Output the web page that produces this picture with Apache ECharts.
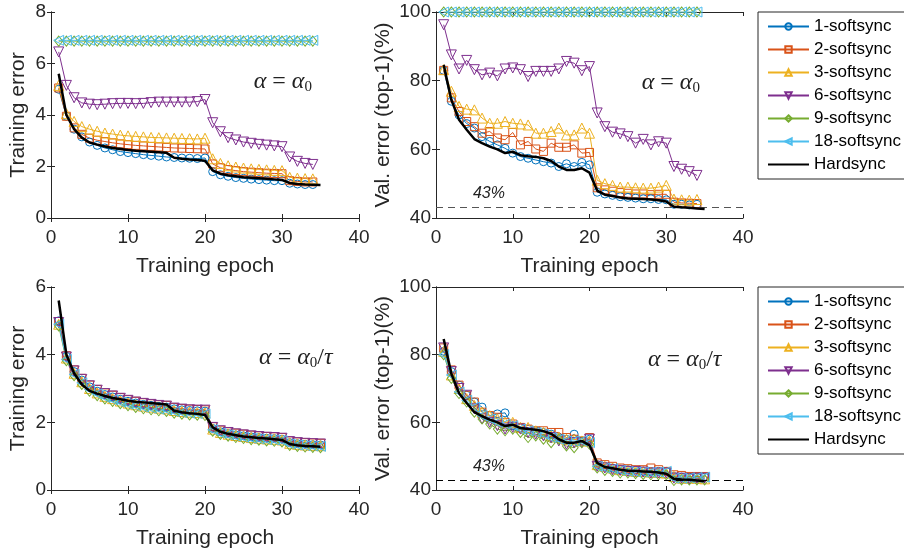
<!DOCTYPE html>
<html>
<head>
<meta charset="utf-8">
<script src="https://cdn.jsdelivr.net/npm/echarts@6/dist/echarts.min.js"></script>
<style>
  html, body { margin: 0; padding: 0; background: #fff; }
  #chart { width: 904px; height: 550px; }
</style>
</head>
<body>
<div id="chart"></div>
<script>
// epochs
const epochs = [1, 2, 3, 4, 5, 6, 7, 8, 9, 10, 11, 12, 13, 14, 15, 16, 17, 18, 19, 20,
  21, 22, 23, 24, 25, 26, 27, 28, 29, 30, 31, 32, 33, 34, 35]

const names = ['1-softsync', '2-softsync', '3-softsync', '6-softsync', '9-softsync', '18-softsync', 'Hardsync']
const colors = ['#0072BD', '#D95319', '#EDB120', '#7E2F8E', '#77AC30', '#4DBEEE', '#000000']

const xTicks = [0, 10, 20, 30, 40]
const yTicksTrainTop = [0, 2, 4, 6, 8]
const yTicksTrainBottom = [0, 2, 4, 6]
const yTicksVal = [40, 60, 80, 100]

// training error, alpha = alpha0
const trainA0_1 = [5.0, 3.95, 3.45, 3.15, 2.95, 2.82, 2.72, 2.65, 2.58, 2.54, 2.5, 2.46, 2.43, 2.4, 2.37, 2.35, 2.33, 2.32, 2.31, 2.33,
  1.8, 1.68, 1.62, 1.57, 1.54, 1.51, 1.49, 1.47, 1.45, 1.45, 1.35, 1.32, 1.3, 1.3]
const trainA0_2 = [5.05, 3.95, 3.5, 3.25, 3.1, 3.02, 2.97, 2.92, 2.88, 2.85, 2.82, 2.8, 2.78, 2.76, 2.74, 2.72, 2.71, 2.7, 2.69, 2.68,
  2.1, 1.95, 1.88, 1.84, 1.8, 1.78, 1.76, 1.74, 1.73, 1.72, 1.45, 1.42, 1.4, 1.4]
const trainA0_3 = [5.15, 4.05, 3.75, 3.55, 3.45, 3.37, 3.3, 3.26, 3.22, 3.19, 3.17, 3.15, 3.13, 3.12, 3.11, 3.1, 3.09, 3.08, 3.07, 3.1,
  2.3, 2.12, 2.03, 1.98, 1.94, 1.91, 1.89, 1.87, 1.85, 1.84, 1.58, 1.55, 1.53, 1.52]
const trainA0_6 = [6.45, 5.15, 4.67, 4.47, 4.42, 4.4, 4.42, 4.44, 4.45, 4.45, 4.44, 4.45, 4.48, 4.5, 4.5, 4.5, 4.5, 4.5, 4.52, 4.6,
  3.7, 3.35, 3.12, 3.03, 2.95, 2.9, 2.86, 2.83, 2.8, 2.77, 2.37, 2.2, 2.12, 2.08]
const trainA0_9 = [6.87, 6.87, 6.87, 6.87, 6.87, 6.87, 6.87, 6.87, 6.87, 6.87, 6.87, 6.87, 6.87, 6.87, 6.87, 6.87, 6.87, 6.87, 6.87, 6.87,
  6.87, 6.87, 6.87, 6.87, 6.87, 6.87, 6.87, 6.87, 6.87, 6.87, 6.87, 6.87, 6.87, 6.87]
const trainA0_18 = [6.9, 6.9, 6.9, 6.9, 6.9, 6.9, 6.9, 6.9, 6.9, 6.9, 6.9, 6.9, 6.9, 6.9, 6.9, 6.9, 6.9, 6.9, 6.9, 6.9,
  6.9, 6.9, 6.9, 6.9, 6.9, 6.9, 6.9, 6.9, 6.9, 6.9, 6.9, 6.9, 6.9, 6.9]
const trainHard = [5.6, 4.0, 3.45, 3.12, 2.93, 2.85, 2.78, 2.72, 2.68, 2.64, 2.61, 2.59, 2.57, 2.55, 2.53, 2.34, 2.3, 2.27, 2.25, 2.22,
  1.85, 1.72, 1.66, 1.62, 1.58, 1.56, 1.54, 1.52, 1.5, 1.48, 1.36, 1.32, 1.3, 1.29, 1.28]

// validation error, alpha = alpha0
const valA0_1 = [83, 74, 70, 67.5, 66.2, 63.7, 62.3, 61.3, 60.3, 58.9, 57.9, 57.4, 56.9, 56.4, 56, 55, 55.8, 55, 56.2, 55.5,
  47.5, 47, 46.6, 46.2, 46, 45.8, 45.6, 45.6, 45.4, 45.3, 44, 44, 43.8, 44]
const valA0_2 = [83, 75, 71, 68.1, 66.6, 64.7, 65.2, 63.3, 62.8, 64.9, 61.3, 62.3, 60.1, 59.4, 61.8, 60.6, 60.6, 61.3, 58.9, 59.1,
  48.8, 48.2, 47.8, 47.4, 47.2, 47, 47, 46.8, 46.9, 46.9, 44.6, 44.4, 44.3, 44.2]
const valA0_3 = [83.2, 76.9, 72.5, 71.7, 71.5, 69.1, 67.6, 67.6, 68.1, 67.6, 67.4, 67.1, 64.7, 64.7, 65.2, 66.2, 64.2, 64.2, 66.2, 64.7,
  51, 50, 49.5, 49, 49, 48.8, 48.7, 48.7, 49, 49.5, 45.5, 45.3, 45.2, 45.4]
const valA0_6 = [96.3, 87.5, 83.4, 85.9, 83.2, 81.7, 82.2, 81.4, 83.4, 83.7, 83.2, 81.2, 82.7, 82.7, 82.7, 83.4, 85.6, 85.1, 82.9, 84.1,
  70.6, 66.6, 65, 64.5, 63.7, 61.8, 62.9, 61.3, 62.2, 61.8, 55, 54.2, 53.5, 52.4]
const valA0_9 = [100, 100, 100, 100, 100, 100, 100, 100, 100, 100, 100, 100, 100, 100, 100, 100, 100, 100, 100, 100,
  100, 100, 100, 100, 100, 100, 100, 100, 100, 100, 100, 100, 100, 100]
const valA0_18 = [100, 100, 100, 100, 100, 100, 100, 100, 100, 100, 100, 100, 100, 100, 100, 100, 100, 100, 100, 100,
  100, 100, 100, 100, 100, 100, 100, 100, 100, 100, 100, 100, 100, 100]
const valHard = [84.6, 74.4, 68.6, 65.7, 63, 61.8, 60.8, 60, 58.9, 59.3, 58.3, 58, 57.8, 57.4, 56.6, 55, 54, 54, 54.5, 53.2,
  48, 46.8, 46.4, 46, 45.7, 45.6, 45.5, 45.4, 45.2, 44.8, 43.3, 43.1, 43, 42.8, 42.6]

// training error, alpha = alpha0 / tau
const trainT_1 = [5.0, 3.95, 3.5, 3.25, 3.05, 2.92, 2.82, 2.75, 2.68, 2.62, 2.57, 2.53, 2.5, 2.47, 2.45, 2.4, 2.37, 2.35, 2.34, 2.33,
  1.82, 1.72, 1.67, 1.63, 1.6, 1.57, 1.55, 1.53, 1.52, 1.5, 1.4, 1.37, 1.35, 1.34, 1.33]
const trainT_2 = [4.98, 3.97, 3.55, 3.3, 3.1, 2.97, 2.87, 2.8, 2.73, 2.67, 2.62, 2.58, 2.55, 2.52, 2.5, 2.44, 2.41, 2.39, 2.38, 2.37,
  1.87, 1.77, 1.72, 1.68, 1.65, 1.62, 1.6, 1.58, 1.57, 1.55, 1.45, 1.42, 1.4, 1.39, 1.38]
const trainT_3 = [4.9, 3.9, 3.45, 3.2, 3.0, 2.87, 2.77, 2.7, 2.63, 2.57, 2.52, 2.48, 2.45, 2.42, 2.4, 2.35, 2.32, 2.3, 2.29, 2.28,
  1.8, 1.7, 1.65, 1.61, 1.58, 1.55, 1.53, 1.51, 1.5, 1.48, 1.38, 1.35, 1.33, 1.32, 1.31]
const trainT_6 = [4.95, 3.93, 3.52, 3.27, 3.08, 2.95, 2.85, 2.78, 2.71, 2.65, 2.6, 2.56, 2.53, 2.5, 2.48, 2.42, 2.39, 2.37, 2.36, 2.36,
  1.85, 1.75, 1.7, 1.66, 1.63, 1.6, 1.58, 1.56, 1.55, 1.53, 1.43, 1.4, 1.38, 1.37, 1.36]
const trainT_9 = [4.85, 3.82, 3.38, 3.12, 2.92, 2.79, 2.69, 2.62, 2.55, 2.49, 2.44, 2.4, 2.37, 2.34, 2.32, 2.27, 2.24, 2.22, 2.21, 2.2,
  1.74, 1.64, 1.59, 1.55, 1.52, 1.49, 1.47, 1.45, 1.44, 1.42, 1.32, 1.29, 1.27, 1.26, 1.25]
const trainT_18 = [4.9, 3.86, 3.42, 3.17, 2.97, 2.84, 2.74, 2.67, 2.6, 2.54, 2.49, 2.45, 2.42, 2.39, 2.37, 2.32, 2.29, 2.27, 2.26, 2.25,
  1.78, 1.68, 1.63, 1.59, 1.56, 1.53, 1.51, 1.49, 1.48, 1.46, 1.36, 1.33, 1.31, 1.3, 1.29]

// validation error, alpha = alpha0 / tau
const valT_1 = [81, 75, 71, 68, 66, 64.5, 62, 62.5, 62.8, 59, 58.5, 58, 57.5, 57, 56.5, 55.5, 55, 56.5, 54.5, 55,
  47.5, 47, 46.5, 46, 46, 45.8, 45.5, 45.5, 45.5, 45.5, 44, 43.8, 43.8, 43.8, 43.8]
const valT_2 = [82, 75.5, 71, 68, 66, 63, 62, 61.5, 60, 59.5, 58.5, 58, 57.5, 57.5, 57, 57, 55.5, 55, 54.5, 55.5,
  48, 47.5, 47, 46.5, 46.3, 46, 46, 46.5, 46, 45.5, 44.5, 44.3, 44, 44, 44]
const valT_3 = [81, 74, 70, 67, 65, 63, 62, 61, 60, 60, 58.5, 58.5, 57.5, 57, 56, 55.5, 55, 55, 54.5, 54.5,
  47.5, 47, 46.5, 46, 45.8, 45.5, 45.5, 45.3, 45.2, 45, 44, 43.5, 43.5, 43.5, 43.3]
const valT_6 = [82, 75, 70, 68, 64, 61, 60, 59, 58, 58.5, 58, 57, 56.5, 56, 55.5, 54.5, 53.5, 54, 54, 55,
  47, 46.5, 46, 45.8, 45.5, 45.5, 45.3, 45, 45, 45, 43.5, 43.5, 43.3, 43.5, 43.5]
const valT_9 = [80, 73, 68.5, 66, 63, 61, 59.5, 58, 57.5, 58, 57, 55.5, 56, 55, 54, 55, 53, 52.5, 54, 53.5,
  46.5, 45.8, 45.5, 45, 45, 44.8, 44.6, 44.5, 44.5, 44.5, 42.8, 43, 43, 43, 43]
const valT_18 = [80, 74, 69, 66.5, 64.5, 62, 61, 60, 59.5, 59, 58, 57.5, 57, 56.5, 55.5, 55, 54.5, 54.5, 54.5, 54,
  47, 46.5, 46.3, 45.8, 45.5, 45.3, 45.3, 45.2, 45.3, 45.5, 43.5, 43.5, 43.6, 43.7, 43.8]

const symbols = [
  { symbol: 'circle', size: 8 },
  { symbol: 'rect', size: 8 },
  { symbol: 'triangle', size: 10 },
  { symbol: 'path://M0,0 L10,0 L5,10 Z', size: 10 },
  { symbol: 'diamond', size: [8, 10] },
  { symbol: 'path://M0,5 L10,0 L10,10 Z', size: 10 }
]

const axisColor = '#262626'
const font = 'Liberation Sans, Arial, sans-serif'

const grids = [
  { left: 51, top: 12, width: 308, height: 206 },
  { left: 436, top: 12, width: 307, height: 206 },
  { left: 51, top: 287, width: 308, height: 206 },
  { left: 436, top: 287, width: 307, height: 206 }
]

const yRanges = [
  { ticks: yTicksTrainTop, name: 'Training error', gap: 22 },
  { ticks: yTicksVal, name: 'Val. error (top-1)(%)', gap: 42 },
  { ticks: yTicksTrainBottom, name: 'Training error', gap: 22 },
  { ticks: yTicksVal, name: 'Val. error (top-1)(%)', gap: 42 }
]

const xAxes = []
const yAxes = []
grids.forEach((g, i) => {
  xAxes.push({
    type: 'value', gridIndex: i, min: xTicks[0], max: xTicks[xTicks.length - 1], interval: 10,
    name: 'Training epoch', nameLocation: 'middle', nameGap: 38,
    nameTextStyle: { fontSize: 21, color: axisColor, fontFamily: font },
    axisLine: { show: true, lineStyle: { color: axisColor, width: 1 } },
    axisTick: { show: true, inside: true, length: 4, lineStyle: { color: axisColor } },
    axisLabel: { fontSize: 19, color: axisColor, fontFamily: font, margin: 10 },
    splitLine: { show: false }
  })
  xAxes.push({
    type: 'value', gridIndex: i, position: 'top', min: 0, max: 40, interval: 10,
    axisLine: { show: true, lineStyle: { color: axisColor, width: 1 } },
    axisTick: { show: true, inside: true, length: 4, lineStyle: { color: axisColor } },
    axisLabel: { show: false }, splitLine: { show: false }
  })
  const yr = yRanges[i]
  const ymin = yr.ticks[0]
  const ymax = yr.ticks[yr.ticks.length - 1]
  const yint = yr.ticks[1] - yr.ticks[0]
  yAxes.push({
    type: 'value', gridIndex: i, min: ymin, max: ymax, interval: yint,
    name: yr.name, nameLocation: 'middle', nameGap: yr.gap,
    nameTextStyle: { fontSize: 21, color: axisColor, fontFamily: font },
    axisLine: { show: true, lineStyle: { color: axisColor, width: 1 } },
    axisTick: { show: true, inside: true, length: 4, lineStyle: { color: axisColor } },
    axisLabel: { fontSize: 19, color: axisColor, fontFamily: font, margin: 5 },
    splitLine: { show: false }
  })
  yAxes.push({
    type: 'value', gridIndex: i, position: 'right', min: ymin, max: ymax, interval: yint,
    axisLine: { show: true, lineStyle: { color: axisColor, width: 1 } },
    axisTick: { show: true, inside: true, length: 4, lineStyle: { color: axisColor } },
    axisLabel: { show: false }, splitLine: { show: false }
  })
})

const pairs = (vals) => vals.map((v, k) => [epochs[k], v])

const serif = 'Liberation Serif, DejaVu Serif, serif'
const alphaRich = {
  i: { fontFamily: serif, fontStyle: 'italic', fontSize: 24, lineHeight: 26, color: '#222' },
  n: { fontFamily: serif, fontSize: 24, lineHeight: 26, color: '#222' },
  s: { fontFamily: serif, fontSize: 15, lineHeight: 15, verticalAlign: 'bottom', color: '#222' }
}

function softSeries(gi, idx, vals) {
  const s = symbols[idx]
  return {
    name: names[idx], type: 'line', xAxisIndex: gi * 2, yAxisIndex: gi * 2,
    data: pairs(vals), color: colors[idx],
    symbol: s.symbol, symbolSize: s.size, showAllSymbol: true,
    lineStyle: { color: colors[idx], width: 1 },
    itemStyle: { color: 'rgba(255,255,255,0)', borderColor: colors[idx], borderWidth: 1 },
    emphasis: { disabled: true }
  }
}

function hardSeries(gi, vals, alphaCoord, alphaText, val) {
  const marks = [{
    coord: alphaCoord,
    label: { show: true, formatter: alphaText, rich: alphaRich }
  }]
  const ser = {
    name: 'Hardsync', type: 'line', xAxisIndex: gi * 2, yAxisIndex: gi * 2,
    data: pairs(vals), color: '#000', symbol: 'none', z: 5,
    lineStyle: { color: '#000', width: 2.5 },
    itemStyle: { color: 'rgba(0,0,0,0)', borderWidth: 0 },
    emphasis: { disabled: true },
    markPoint: {
      symbol: 'circle', symbolSize: 0, silent: true,
      itemStyle: { color: 'rgba(0,0,0,0)' },
      data: marks
    }
  }
  if (val) {
    marks.push({
      coord: [6.9, 47],
      label: { show: true, formatter: '43%', fontSize: 16, fontStyle: 'italic', color: '#222', fontFamily: font }
    })
    ser.markLine = {
      silent: true, symbol: ['none', 'none'],
      label: { show: false },
      lineStyle: { color: val, type: [7, 5], width: 1 },
      data: [{ yAxis: 43 }]
    }
  }
  return ser
}

const tlSets = [trainA0_1, trainA0_2, trainA0_3, trainA0_6, trainA0_9, trainA0_18]
const trSets = [valA0_1, valA0_2, valA0_3, valA0_6, valA0_9, valA0_18]
const blSets = [trainT_1, trainT_2, trainT_3, trainT_6, trainT_9, trainT_18]
const brSets = [valT_1, valT_2, valT_3, valT_6, valT_9, valT_18]

const a0 = '{i|α}{n| = }{i|α}{s|0}'
const a0tau = '{i|α}{n| = }{i|α}{s|0}{n|/}{i|τ}'

const series = []
tlSets.forEach((v, k) => series.push(softSeries(0, k, v)))
series.push(hardSeries(0, trainHard, [30.1, 5.3], a0, null))
trSets.forEach((v, k) => series.push(softSeries(1, k, v)))
series.push(hardSeries(1, valHard, [30.6, 79.5], a0, '#555'))
blSets.forEach((v, k) => series.push(softSeries(2, k, v)))
series.push(hardSeries(2, trainHard, [31.8, 3.9], a0tau, null))
brSets.forEach((v, k) => series.push(softSeries(3, k, v)))
series.push(hardSeries(3, valHard, [32.4, 78.6], a0tau, '#000'))

const legendBase = {
  data: names, orient: 'vertical', left: 758,
  itemWidth: 41, itemHeight: 8, itemGap: 6,
  padding: [6, 6, 6, 9],
  borderColor: axisColor, borderWidth: 1, backgroundColor: '#fff',
  textStyle: { fontSize: 17, color: '#000', fontFamily: font },
  selectedMode: false
}

const chart = echarts.init(document.getElementById('chart'))
chart.setOption({
  animation: false,
  backgroundColor: '#fff',
  grid: grids.map(g => Object.assign({ containLabel: false }, g)),
  xAxis: xAxes,
  yAxis: yAxes,
  legend: [
    Object.assign({}, legendBase, { top: 12 }),
    Object.assign({}, legendBase, { top: 287 })
  ],
  series: series
})
</script>
</body>
</html>
